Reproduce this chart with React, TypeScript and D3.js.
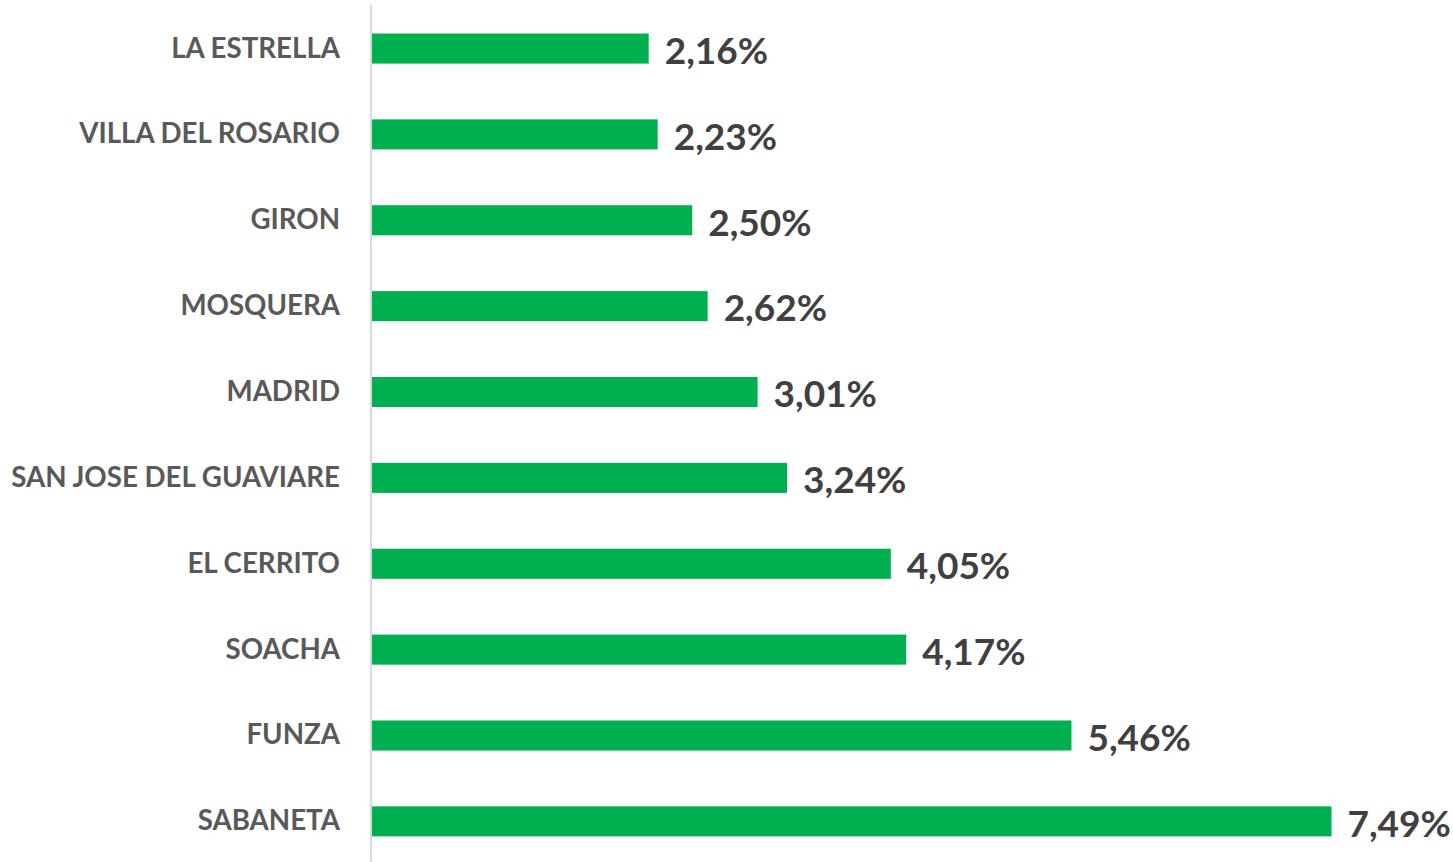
import React from "react";
import * as d3 from "d3";

const categories = [
  "LA ESTRELLA",
  "VILLA DEL ROSARIO",
  "GIRON",
  "MOSQUERA",
  "MADRID",
  "SAN JOSE DEL GUAVIARE",
  "EL CERRITO",
  "SOACHA",
  "FUNZA",
  "SABANETA",
];
const values = [2.16, 2.23, 2.5, 2.62, 3.01, 3.24, 4.05, 4.17, 5.46, 7.49];

const W = 1453;
const H = 862;

export default function App() {
  const x0 = 372;
  const pxPerUnit = (1331.5 - 372) / 7.49;
  const x = d3.scaleLinear().domain([0, 8]).range([x0, x0 + 8 * pxPerUnit]);
  const y = d3
    .scaleBand<string>()
    .domain(categories)
    .range([5.6, 5.6 + 85.87 * 10])
    .paddingInner(0.65)
    .paddingOuter(0.325);
  const fmt = (v: number) => v.toFixed(2).replace(".", ",") + "%";
  const font = "Lato, 'Open Sans', sans-serif";
  return (
    <svg
      width={W}
      height={H}
      style={{ position: "absolute", left: 0, top: 0, background: "#fff" }}
    >
      <line x1={371} x2={371} y1={5} y2={H} stroke="#d9d9d9" strokeWidth={2} />
      {categories.map((c, i) => {
        const yy = y(c)!;
        const bw = y.bandwidth();
        const cy = yy + bw / 2;
        return (
          <g key={c}>
            <rect x={x(0)} y={yy} width={x(values[i]) - x(0)} height={bw} fill="#00B050" />
            <text
              x={340}
              y={cy - 1}
              dy="0.36em"
              textAnchor="end"
              fontFamily={font}
              fontWeight={700}
              fontSize={27.7}
              fill="#595959"
            >
              {c}
            </text>
            <text
              x={x(values[i]) + 16}
              y={cy + 2}
              dy="0.36em"
              textAnchor="start"
              fontFamily={font}
              fontWeight={700}
              fontSize={37}
              fill="#404040"
            >
              {fmt(values[i])}
            </text>
          </g>
        );
      })}
    </svg>
  );
}
